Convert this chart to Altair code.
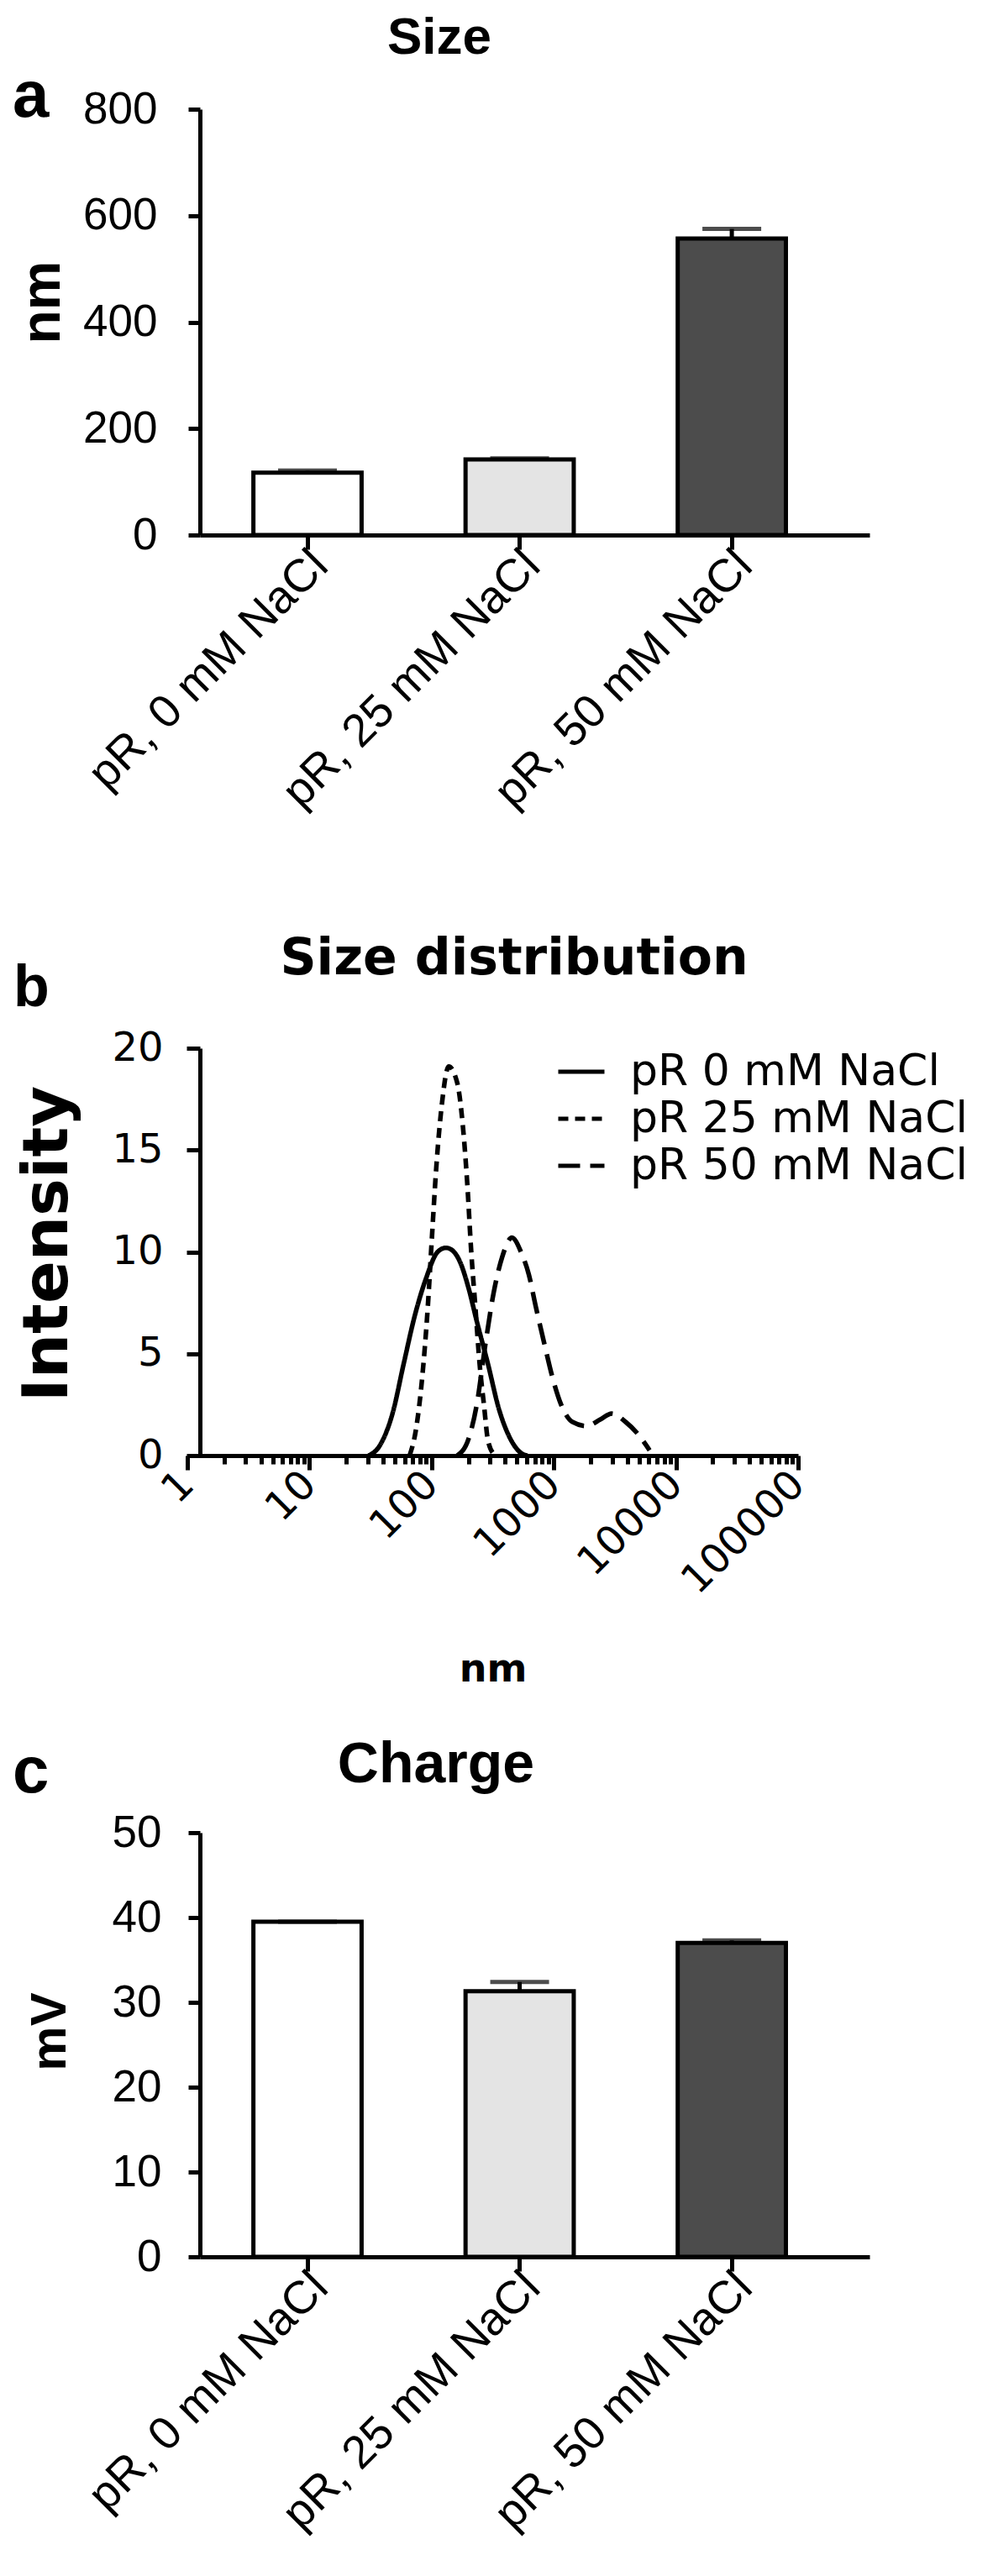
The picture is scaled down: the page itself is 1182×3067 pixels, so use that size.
import altair as alt
import pandas as pd

# ---------------- data ----------------
categories = ["pR, 0 mM NaCl", "pR, 25 mM NaCl", "pR, 50 mM NaCl"]
size_nm = [117, 142, 557]
size_err = [4, 2, 18]
charge_mv = [39.5, 31.3, 37.0]
charge_err = [0.0, 1.1, 0.3]
bar_fills = ["#ffffff", "#e4e4e4", "#4c4c4c"]

series = ["pR 0 mM NaCl", "pR 25 mM NaCl", "pR 50 mM NaCl"]
pr0_nm = [30.5, 37.7, 48, 59, 73, 90, 112, 131, 146, 171, 200, 234, 289, 355, 443, 547, 608]
pr0_int = [0, 0.5, 2.1, 4.5, 6.9, 8.7, 10.0, 10.2, 10.1, 9.5, 8.25, 6.6, 4.5, 2.3, 0.8, 0.1, 0]
pr25_nm = [66, 75, 83.6, 93, 100.5, 109, 121, 138, 162, 180, 195, 211, 228, 247, 268, 290, 331]
pr25_int = [0, 1.4, 3.8, 7.3, 10.7, 14.1, 17.2, 19.1, 18.3, 16.2, 13.5, 10.0, 7.3, 4.5, 2.5, 0.7, 0]
pr50_nm = [162, 200, 234, 276, 322, 378, 454, 547, 624, 713, 836, 979, 1148, 1419, 1849,
           2406, 2977, 3875, 5046, 6083]
pr50_int = [0, 0.8, 2.5, 5.5, 8.0, 9.75, 10.7, 9.9, 8.9, 7.3, 5.5, 3.8, 2.5, 1.65, 1.45,
            1.77, 2.06, 1.65, 0.95, 0.26]

panel_letters = ["a", "b", "c"]
panel_titles = ["Size", "Size distribution", "Charge"]
y_titles = ["nm", "Intensity", "mV"]
x_title_b = "nm"
size_ticks = [0, 200, 400, 600, 800]
dist_ticks = [0, 5, 10, 15, 20]
charge_ticks = [0, 10, 20, 30, 40, 50]
log_ticks = [m * 10 ** k for k in range(5) for m in range(1, 10)] + [100000]

FONT = "Liberation Sans"
WFONT = "DejaVu Sans"
PANEL_B_TOP = 956  # offset of panel b group below panel a group (flush layout)


def axis_common(**kw):
    base = dict(domainColor="black", domainWidth=5, tickColor="black", tickWidth=5,
                labelColor="black", grid=False, title=None, labelFlush=False,
                labelOverlap=False, labelLimit=1000)
    base.update(kw)
    return alt.Axis(**base)


def text_layer(txt, x, y, font, size, angle=None, align="center", baseline="alphabetic"):
    df = pd.DataFrame({"t": [txt]})
    mk = dict(font=font, fontSize=size, fontWeight="bold", align=align,
              baseline=baseline, color="black")
    if angle is not None:
        mk["angle"] = angle
    return alt.Chart(df).mark_text(**mk).encode(text="t:N", x=alt.value(x), y=alt.value(y))


def bar_panel(vals, errs, ticks, h, texts, label_pad):
    df = pd.DataFrame({"cat": categories, "val": vals,
                       "hi": [v + e for v, e in zip(vals, errs)], "fill": bar_fills})
    xax = axis_common(labelAngle=315, labelAlign="right", labelBaseline="middle",
                      labelFont=FONT, labelFontSize=55, tickSize=17, labelPadding=10,
                      labelOffset=15)
    yax = axis_common(values=ticks, labelFont=FONT, labelFontSize=53, tickSize=14,
                      labelPadding=label_pad)
    xs = alt.Scale(paddingInner=0.49, paddingOuter=0.323, align=0.39)
    ys = alt.Scale(domain=[ticks[0], ticks[-1]], nice=False)
    x = alt.X("cat:N", sort=categories, scale=xs, axis=xax)
    base = alt.Chart(df)
    rule = base.mark_rule(color="black", strokeWidth=5).encode(
        x=x, y=alt.Y("val:Q", scale=ys, axis=yax), y2="hi:Q")
    bars = base.mark_bar(stroke="black", strokeWidth=5).encode(
        x=x, y=alt.Y("val:Q", scale=ys, axis=yax), fill=alt.Fill("fill:N", scale=None))
    cap = base.mark_tick(color="black", thickness=5, size=70).encode(
        x=x, y=alt.Y("hi:Q", scale=ys, axis=yax))
    return alt.layer(rule, bars, cap, *texts).properties(width=797, height=h)


# ---------------- panel a ----------------
panel_a = bar_panel(
    size_nm, size_err, size_ticks, 507,
    [text_layer(panel_titles[0], 285, -66, FONT, 62),
     text_layer(panel_letters[0], -223, 9, FONT, 78, align="left"),
     text_layer(y_titles[0], -187, 230, FONT, 66, angle=270, baseline="middle")],
    37)

# ---------------- panel b ----------------
dist_df = pd.concat([
    pd.DataFrame({"series": series[0], "nm": pr0_nm, "intensity": pr0_int}),
    pd.DataFrame({"series": series[1], "nm": pr25_nm, "intensity": pr25_int}),
    pd.DataFrame({"series": series[2], "nm": pr50_nm, "intensity": pr50_int}),
])
major = "indexof([1,10,100,1000,10000,100000], datum.value) >= 0"
xax_b = axis_common(values=log_ticks,
                    labelExpr=major + " ? format(datum.value, 'd') : ''",
                    tickSize={"condition": {"test": major, "value": 17}, "value": 10},
                    labelAngle=315, labelAlign="right", labelBaseline="middle",
                    labelFont=WFONT, labelFontSize=48, labelPadding=10)
yax_b = axis_common(values=dist_ticks, labelFont=WFONT, labelFontSize=48, tickSize=16,
                    labelPadding=28)
leg = alt.Legend(title=None, orient="none", legendX=424, legendY=PANEL_B_TOP + 160,
                 symbolType="stroke", symbolStrokeWidth=5, symbolSize=3025,
                 symbolStrokeColor="black", labelFont=WFONT, labelFontSize=52,
                 labelOffset=28, labelLimit=1000, rowPadding=0, padding=0,
                 labelColor="black")
lines = alt.Chart(dist_df).mark_line(color="black", strokeWidth=5.5, interpolate="monotone").encode(
    x=alt.X("nm:Q", scale=alt.Scale(type="log", domain=[1, 100000], range=[-15, 712], nice=False),
            axis=xax_b),
    y=alt.Y("intensity:Q", scale=alt.Scale(domain=[0, 20], range=[647, 162], nice=False),
            axis=yax_b),
    strokeDash=alt.StrokeDash("series:N",
                              scale=alt.Scale(domain=series, range=[[1, 0], [12, 8], [26, 12]]),
                              legend=leg),
)
panel_b = alt.layer(
    lines,
    text_layer(panel_titles[1], 374, 74, WFONT, 60),
    text_layer(panel_letters[1], -222, 112, FONT, 70, align="left"),
    text_layer(y_titles[1], -181, 395, WFONT, 75, angle=270, baseline="middle"),
    text_layer(x_title_b, 349, 916, WFONT, 46),
).properties(width=712, height=647)

# ---------------- panel c ----------------
panel_c = bar_panel(
    charge_mv, charge_err, charge_ticks, 505,
    [text_layer(panel_titles[2], 281, -60, FONT, 68),
     text_layer(panel_letters[2], -223, -48, FONT, 78, align="left"),
     text_layer(y_titles[2], -178, 237, FONT, 60, angle=270, baseline="middle")],
    32)

chart = alt.vconcat(panel_a, panel_b, panel_c, spacing=449, bounds="flush").configure_view(
    strokeWidth=0).properties(padding={"left": 7, "top": 6, "right": 5, "bottom": 5})

chart.save("out.html", embed_options={"renderer": "svg", "actions": False})
